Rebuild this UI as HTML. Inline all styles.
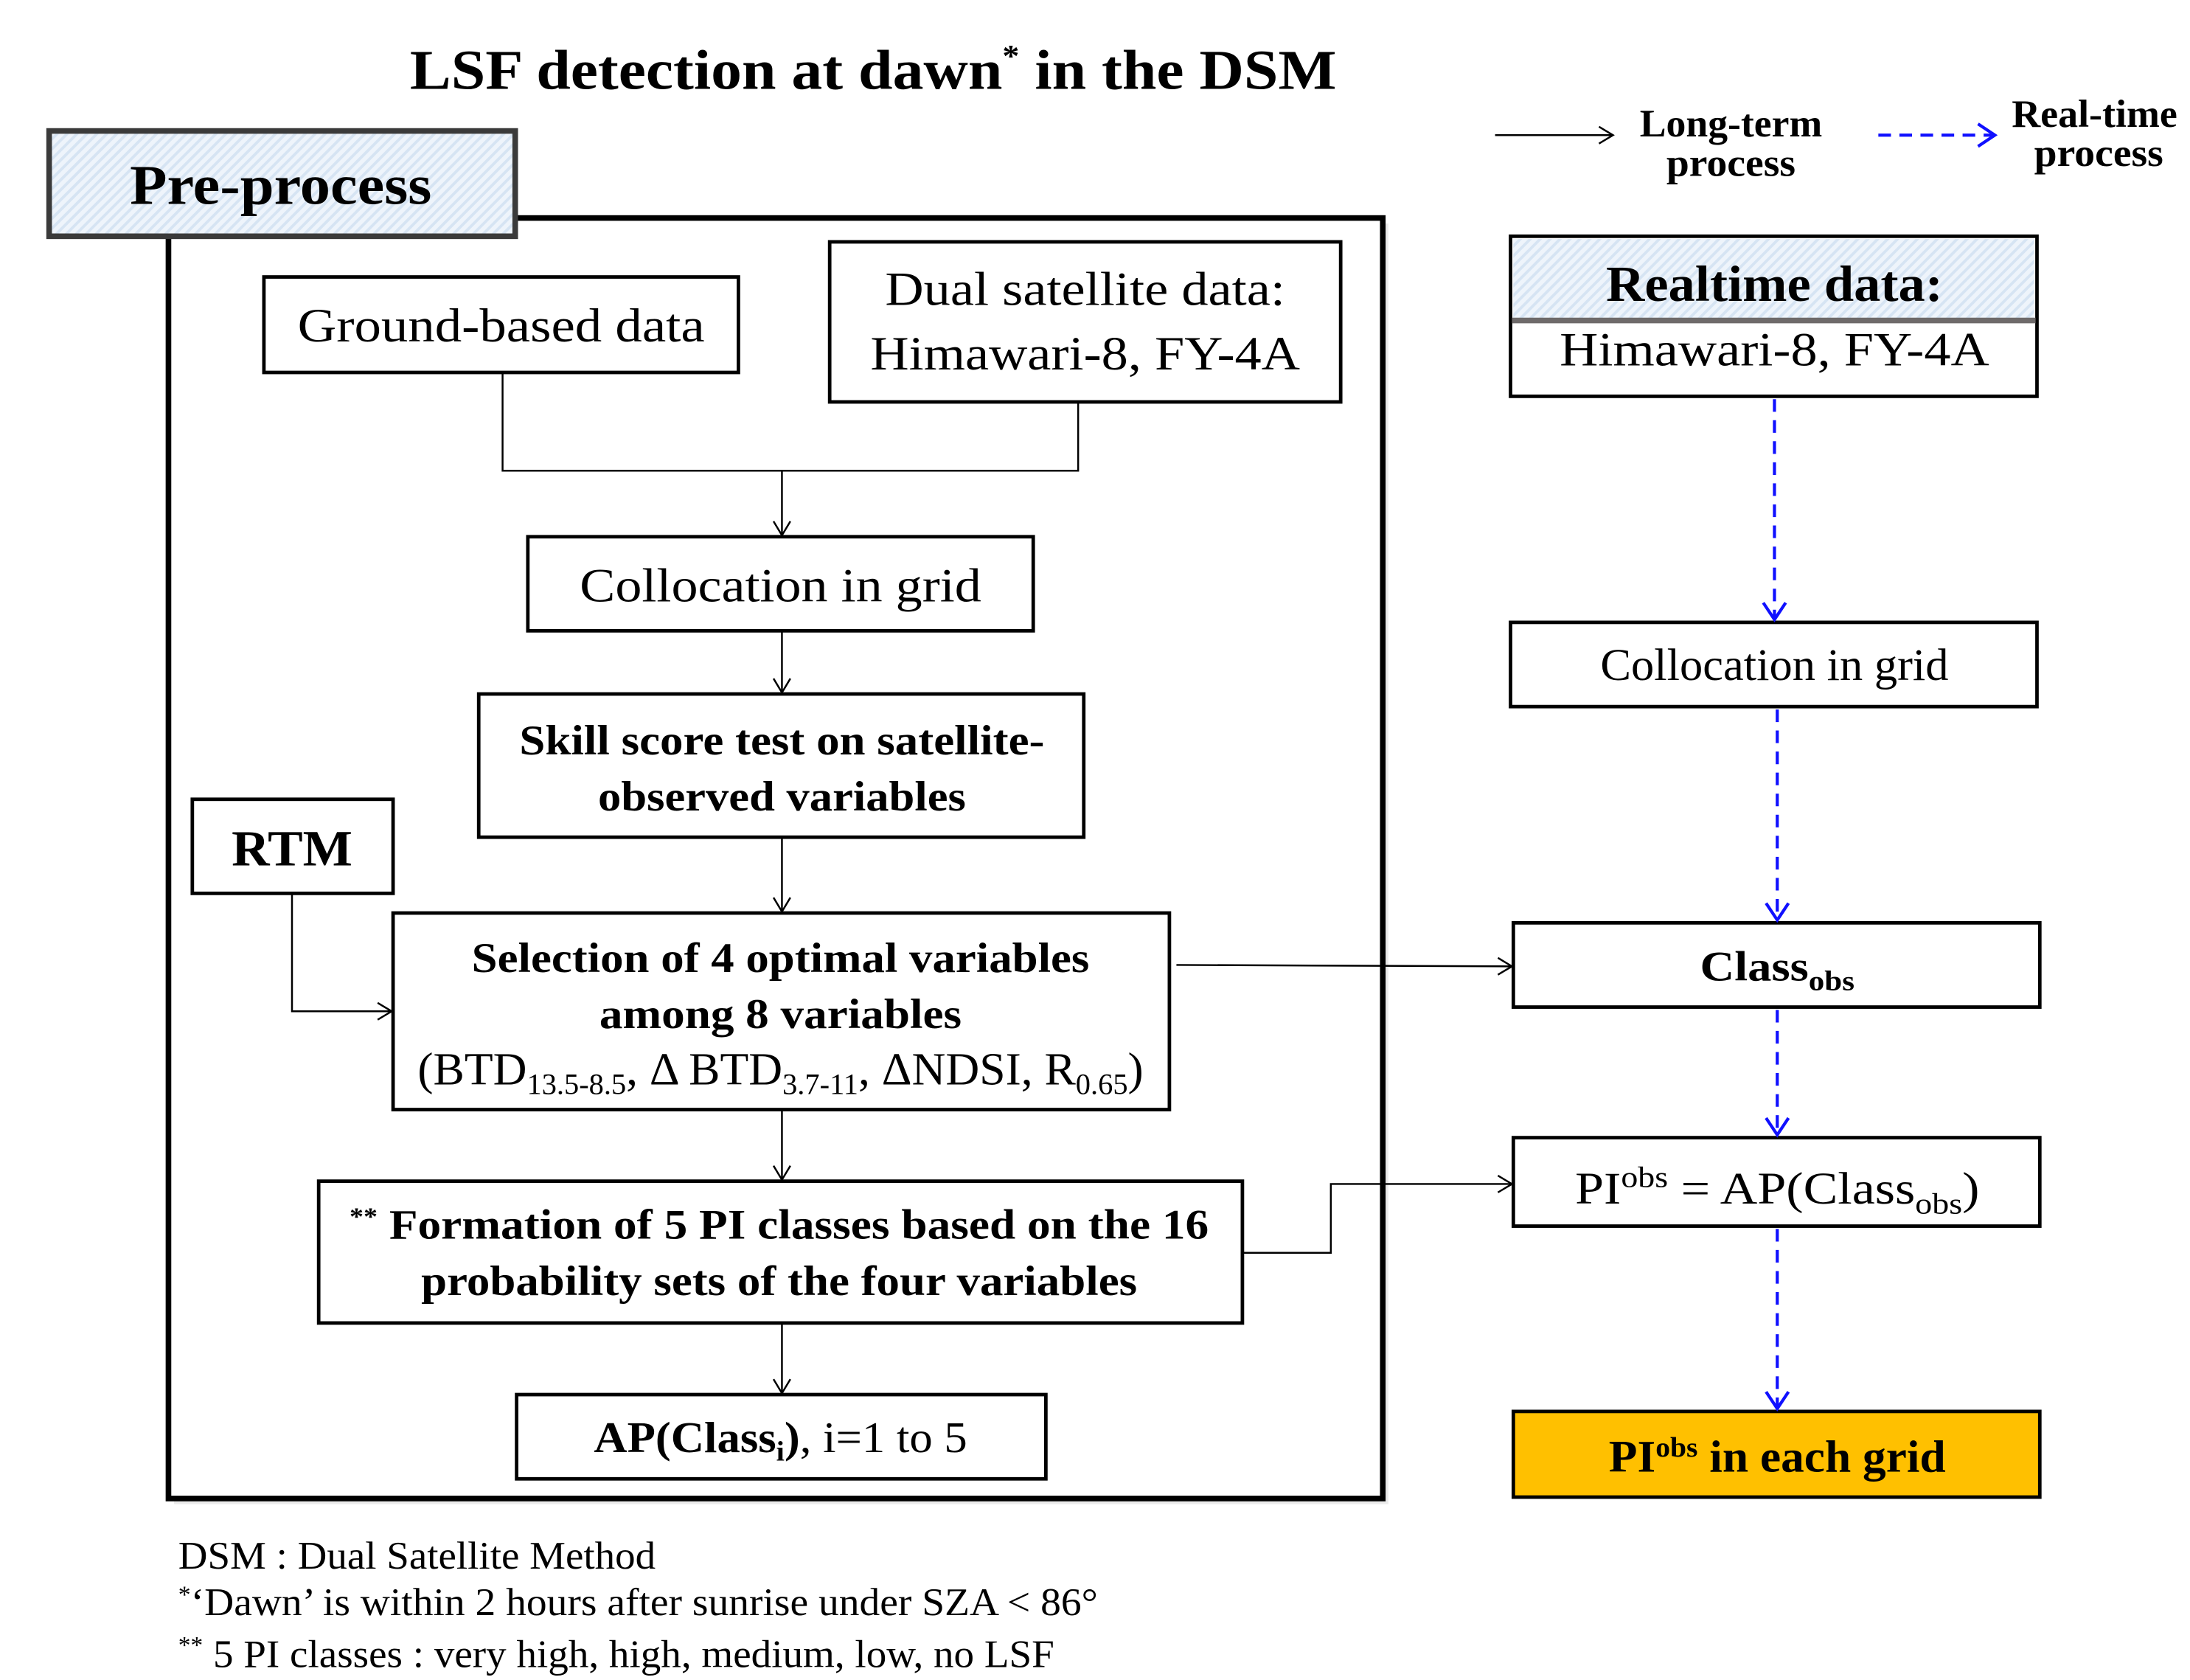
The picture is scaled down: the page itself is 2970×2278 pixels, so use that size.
<!DOCTYPE html>
<html><head><meta charset="utf-8"><style>html,body{margin:0;padding:0;background:#fff}svg{display:block}</style></head><body>
<svg width="2970" height="2278" viewBox="0 0 1560 1196" xmlns="http://www.w3.org/2000/svg" font-family="'Liberation Serif',serif">
<defs>
<pattern id="h" width="5" height="5" patternUnits="userSpaceOnUse" patternTransform="rotate(45)">
<rect width="5" height="5" fill="#eef4fb"/><rect width="2" height="5" fill="#d6e4f3"/></pattern>
<marker id="a" markerWidth="14" markerHeight="14" refX="12" refY="7" orient="auto" markerUnits="userSpaceOnUse"><path d="M2,1 L12,7 L2,13" fill="none" stroke="#000" stroke-width="1.3"/></marker>
<marker id="b" markerWidth="18" markerHeight="18" refX="15" refY="9" orient="auto" markerUnits="userSpaceOnUse"><path d="M3,1 L15,9 L3,17" fill="none" stroke="#1010ff" stroke-width="2.2"/></marker>
</defs>
<g fill="#000" text-anchor="middle">
<text x="622" y="63" font-size="40" font-weight="bold" textLength="660" lengthAdjust="spacingAndGlyphs">LSF detection at dawn<tspan font-size="22" dy="-16">*</tspan><tspan dy="16"> in the DSM</tspan></text>
</g>
<rect x="124" y="159" width="865" height="912" fill="#ddd" opacity="0.6"/>
<rect x="120" y="155" width="865" height="912" fill="#fff" stroke="#000" stroke-width="4"/>
<rect x="35" y="93" width="332" height="75" fill="url(#h)" stroke="#3a3a3a" stroke-width="4"/>
<text x="200" y="145" font-size="40" font-weight="bold" text-anchor="middle" textLength="215" lengthAdjust="spacingAndGlyphs">Pre-process</text>
<g fill="#fff" stroke="#000" stroke-width="2.5">
<rect x="188" y="197" width="338" height="68"/>
<rect x="591" y="172" width="364" height="114"/>
<rect x="376" y="382" width="360" height="67"/>
<rect x="341" y="494" width="431" height="102"/>
<rect x="137" y="569" width="143" height="67"/>
<rect x="280" y="650" width="553" height="140"/>
<rect x="227" y="841" width="658" height="101"/>
<rect x="368" y="993" width="377" height="60"/>
<rect x="1076" y="168" width="375" height="114"/>
<rect x="1076" y="443" width="375" height="60"/>
<rect x="1078" y="657" width="375" height="60"/>
<rect x="1078" y="810" width="375" height="63"/>
<rect x="1078" y="1005" width="375" height="61" fill="#ffc000"/>
</g>
<rect x="1078" y="170" width="371" height="57" fill="url(#h)"/>
<line x1="1077" y1="228" x2="1450" y2="228" stroke="#6e6a6a" stroke-width="4"/>
<g fill="none" stroke="#000" stroke-width="1.3">
<polyline points="358,265 358,335 768,335 768,286"/>
<line x1="557" y1="335" x2="557" y2="381" marker-end="url(#a)"/>
<line x1="557" y1="449" x2="557" y2="493" marker-end="url(#a)"/>
<line x1="557" y1="596" x2="557" y2="649" marker-end="url(#a)"/>
<polyline points="208,636 208,720 279,720" marker-end="url(#a)"/>
<line x1="838" y1="687" x2="1077" y2="688" marker-end="url(#a)"/>
<line x1="557" y1="790" x2="557" y2="840" marker-end="url(#a)"/>
<polyline points="885,892 948,892 948,843 1077,843" marker-end="url(#a)"/>
<line x1="557" y1="942" x2="557" y2="992" marker-end="url(#a)"/>
<line x1="1065" y1="96" x2="1149" y2="96" marker-end="url(#a)"/>
</g>
<g fill="none" stroke="#1010ff" stroke-width="2.2" stroke-dasharray="9,6">
<line x1="1264" y1="284" x2="1264" y2="441" marker-end="url(#b)"/>
<line x1="1266" y1="505" x2="1266" y2="655" marker-end="url(#b)"/>
<line x1="1266" y1="719" x2="1266" y2="808" marker-end="url(#b)"/>
<line x1="1266" y1="875" x2="1266" y2="1003" marker-end="url(#b)"/>
<line x1="1338" y1="96" x2="1421" y2="96" marker-end="url(#b)"/>
</g>
<g fill="#000" text-anchor="middle">
<text x="357" y="243" font-size="34" textLength="290" lengthAdjust="spacingAndGlyphs">Ground-based  data</text>
<text x="773" y="217" font-size="34" textLength="285" lengthAdjust="spacingAndGlyphs">Dual satellite data:</text>
<text x="773" y="263" font-size="34" textLength="306" lengthAdjust="spacingAndGlyphs">Himawari-8,  FY-4A</text>
<text x="556" y="428" font-size="34" textLength="286" lengthAdjust="spacingAndGlyphs">Collocation  in grid</text>
<text x="557" y="537" font-size="30" font-weight="bold" textLength="374" lengthAdjust="spacingAndGlyphs">Skill score test on satellite-</text>
<text x="557" y="577" font-size="30" font-weight="bold" textLength="262" lengthAdjust="spacingAndGlyphs">observed variables</text>
<text x="208" y="616" font-size="36" font-weight="bold" textLength="86" lengthAdjust="spacingAndGlyphs">RTM</text>
<text x="556" y="692" font-size="30" font-weight="bold" textLength="440" lengthAdjust="spacingAndGlyphs">Selection of 4 optimal variables</text>
<text x="556" y="732" font-size="30" font-weight="bold" textLength="258" lengthAdjust="spacingAndGlyphs">among 8 variables</text>
<text x="556" y="772" font-size="33" textLength="517" lengthAdjust="spacingAndGlyphs">(BTD<tspan font-size="21" dy="7">13.5-8.5</tspan><tspan dy="-7">, Δ BTD</tspan><tspan font-size="21" dy="7">3.7-11</tspan><tspan dy="-7">, ΔNDSI, R</tspan><tspan font-size="21" dy="7">0.65</tspan><tspan dy="-7">)</tspan></text>
<text x="555" y="882" font-size="30" font-weight="bold" textLength="612" lengthAdjust="spacingAndGlyphs"><tspan font-size="18" dy="-10">**</tspan><tspan dy="10"> Formation of 5 PI classes based on the 16</tspan></text>
<text x="555" y="922" font-size="30" font-weight="bold" textLength="510" lengthAdjust="spacingAndGlyphs">probability sets of the four variables</text>
<text x="556" y="1034" font-size="31" textLength="266" lengthAdjust="spacingAndGlyphs"><tspan font-weight="bold">AP(Class<tspan font-size="20" dy="6">i</tspan><tspan dy="-6">)</tspan></tspan>, i=1  to 5</text>
<text x="1264" y="214" font-size="36" font-weight="bold" textLength="240" lengthAdjust="spacingAndGlyphs">Realtime data:</text>
<text x="1264" y="260" font-size="34" textLength="306" lengthAdjust="spacingAndGlyphs">Himawari-8,  FY-4A</text>
<text x="1264" y="484" font-size="32" textLength="248" lengthAdjust="spacingAndGlyphs">Collocation in grid</text>
<text x="1266" y="698" font-size="30" font-weight="bold" textLength="110" lengthAdjust="spacingAndGlyphs">Class<tspan font-size="20" dy="7">obs</tspan></text>
<text x="1266" y="857" font-size="32" textLength="288" lengthAdjust="spacingAndGlyphs">PI<tspan font-size="21" dy="-12">obs</tspan><tspan dy="12"> = AP(Class</tspan><tspan font-size="21" dy="7">obs</tspan><tspan dy="-7">)</tspan></text>
<text x="1266" y="1048" font-size="32" font-weight="bold" textLength="240" lengthAdjust="spacingAndGlyphs">PI<tspan font-size="20" dy="-11">obs</tspan><tspan dy="11"> in each grid</tspan></text>
<text x="1233" y="97" font-size="28" font-weight="bold" textLength="130" lengthAdjust="spacingAndGlyphs">Long-term</text>
<text x="1233" y="125" font-size="28" font-weight="bold" textLength="92" lengthAdjust="spacingAndGlyphs">process</text>
<text x="1492" y="90" font-size="28" font-weight="bold" textLength="118" lengthAdjust="spacingAndGlyphs">Real-time</text>
<text x="1495" y="118" font-size="28" font-weight="bold" textLength="92" lengthAdjust="spacingAndGlyphs">process</text>
</g>
<g fill="#000" font-size="28">
<text x="127" y="1117" textLength="340" lengthAdjust="spacingAndGlyphs">DSM : Dual Satellite Method</text>
<text x="127" y="1150" textLength="655" lengthAdjust="spacingAndGlyphs"><tspan font-size="17" dy="-9">*</tspan><tspan dy="9">‘Dawn’  is within  2 hours  after sunrise under SZA &lt; 86°</tspan></text>
<text x="127" y="1187" textLength="624" lengthAdjust="spacingAndGlyphs"><tspan font-size="17" dy="-10">**</tspan><tspan dy="10">  5 PI classes : very high,  high,  medium,  low,  no LSF</tspan></text>
</g>
</svg>
</body></html>
